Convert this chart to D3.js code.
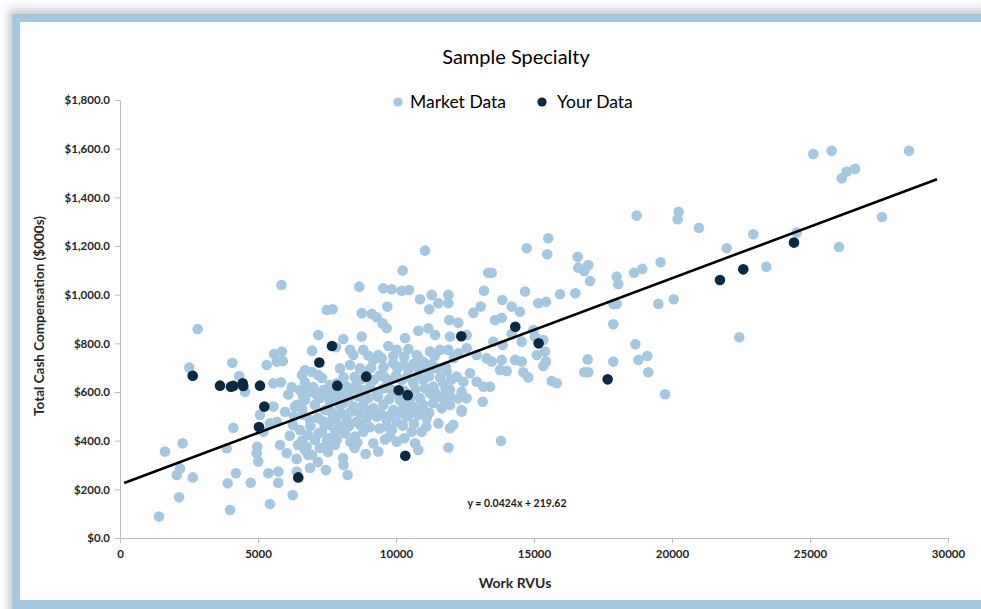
<!DOCTYPE html>
<html>
<head>
<meta charset="utf-8">
<script src="https://cdn.jsdelivr.net/npm/d3@7"></script>
<style>
  body { margin: 0; background: #fff; }
  svg { display: block; font-family: Lato, "Open Sans", sans-serif; }
</style>
</head>
<body>
<svg width="981" height="609"></svg>
<script>
// Work RVUs vs total cash compensation ($000s)
const marketData = [
    [5850,1040],[2815,859],[2510,700],[4070,720],[4320,666],[4530,601],[5580,756],[5860,766],[5680,725],[5900,727],
    [5315,711],[5555,636],[5830,640],[6220,620],[6700,690],[6960,770],[7185,834],[7490,937],[7185,670],[6640,581],
    [6860,615],[7130,588],[7370,608],[5555,540],[5070,506],[5980,519],[6340,540],[5680,478],[4105,453],[3866,369],
    [2270,389],[1630,355],[2175,286],[2055,259],[2635,249],[2140,167],[1413,88],[4200,266],[3900,225],[3985,115],
    [4735,227],[4975,375],[4950,348],[5010,314],[5375,266],[5735,273],[5735,227],[5435,140],[6257,177],[6400,325],
    [6400,273],[5190,437],[5435,471],[5800,382],[6040,348],[6820,341],[6760,375],
    [11050,1181],[10243,1099],[8670,1033],[9540,1026],[9843,1022],[10206,1016],[10471,1019],[10870,981],[11293,999],[11535,965],
    [11897,999],[11897,965],[11208,940],[7706,940],[9685,951],[8757,924],[9120,921],[9301,907],[9518,882],[9663,862],
    [11930,896],[12257,885],[12801,926],[13068,951],[13188,1016],[13344,1090],[8090,818],[8757,828],[10326,822],[10808,852],
    [11170,862],[11413,834],[11956,828],[12561,834],[7826,784],[8333,773],[8453,752],[8815,773],
    [9721,789],[10025,773],[10446,776],[10750,752],[11232,766],[11594,773],[11897,773],[12257,759],[12561,780],[12923,752],[13285,738],
    [9178,732],[9481,738],[9902,718],[10264,711],[10627,715],[10989,724],[11292,715],[11474,697],[11836,684],[12199,663],
    [12440,642],[12681,677],[12923,642],[13164,622],
    [7971,697],[8333,711],[8696,697],[8938,684],[9420,669],[9721,649],[10206,649],[10627,636],[10989,649],[11351,622],
    [11714,636],[11956,608],[12380,601],[12561,574],[13141,560],
    [7851,636],[8213,622],[8575,636],[9058,622],[9540,615],[10025,595],[10507,581],[10869,574],[11232,595],[11594,581],
    [11956,581],[12257,574],
    [7730,567],[8090,554],[8453,540],[8815,547],[9178,533],[9540,547],[9902,526],[10264,533],[10627,540],[10989,547],
    [11351,554],[11655,533],[11956,547],[12380,526],
    [7851,499],[8213,485],[8575,478],[8938,492],[9301,499],[9663,485],[10025,478],[10387,499],[10808,506],[11110,492],
    [11533,471],[12076,465],[12380,519],
    [7790,444],[8152,430],[8514,417],[8815,437],[9178,389],[9360,355],[9663,458],[9782,417],[10025,396],[10567,437],
    [10929,437],[10688,389],[10808,362],[11897,372],[11956,451],[8248,259],
    // filling the dense middle band
    [9000,750],[9360,752],[9900,748],[10300,745],[10800,742],[11400,748],[12100,740],
    [9100,700],[9550,702],[10050,698],[10450,690],[10800,700],[11150,688],[11800,705],
    [8100,660],[8500,662],[8800,655],[9200,650],[9600,660],[10000,668],[10400,662],[10800,668],[11200,665],[11600,660],[12000,650],
    [7700,610],[8050,605],[8400,612],[8750,608],[9300,598],[9800,612],[10300,605],[10700,610],[11050,615],[11400,600],[11800,612],
    [7600,580],[7950,585],[8300,578],[8650,582],[9000,575],[9350,580],[9750,570],[10150,565],[10500,560],[11400,575],[11750,568],
    [7650,520],[8000,515],[8350,518],[8700,512],[9050,520],[9450,510],[9800,505],[10150,515],[10500,512],[10850,522],[11200,515],
    [7600,465],[7950,462],[8300,460],[8700,465],[9050,455],[9400,450],[9850,445],[10250,462],[10650,470],[11100,458],
    [7500,400],[7850,405],[8350,395],[8600,392],[9600,405],[10300,410],[8500,370],[8900,345],[8100,300],
    [6100,590],[6300,500],[6600,530],[6900,460],[7200,430],[6700,640],[7000,620],[7350,480],[7500,390],[6150,420],[6600,400],
    [18720,1325],[20242,1341],[20206,1310],[20977,1275],[15517,1232],[15481,1166],[14734,1191],[16583,1156],[16606,1111],[16823,1097],
    [16968,1122],[17029,1056],[17995,1074],[18054,1043],[18623,1090],[18924,1106],[19589,1133],[13467,1090],[14674,1013],[13851,978],
    [14191,951],[14493,930],[15155,965],[15435,971],[15942,1002],[16496,1006],[17873,962],[17995,962],[19504,962],[20061,981],
    [13587,896],[13829,905],[17873,878],[14191,838],[14553,807],[14976,855],[15036,828],[15337,814],[13525,807],[13865,793],
    [15398,766],[15098,752],[15435,725],[15337,707],[14312,732],[14553,725],[13829,732],[13467,725],[13768,690],[14010,686],
    [14613,681],[14794,660],[15640,645],[15822,636],[16944,734],[16823,681],[16968,681],[17873,725],[18671,796],[18780,732],
    [19105,748],[19141,681],[19746,591],[13406,622],[13804,399],
    [25120,1578],[25785,1591],[28587,1591],[26329,1506],[26148,1478],[26631,1517],[27608,1319],[22946,1248],[21981,1191],[24517,1255],
    [26050,1196],[23416,1115],[22438,825],
    [6521,608],[6703,567],[6884,600],[7065,547],[7246,575],[7427,526],[7608,559],[6630,506],[6884,485],[7174,493],
    [7427,464],[7681,485],[6521,444],[6811,423],[7065,403],[7318,436],[7608,411],[6703,362],[6956,341],[7246,370],
    [7536,353],[7790,382],[6884,288],[7463,279],[7174,312],[6449,382],[6268,464],[6413,547],[6594,670],[6956,682],
    [7318,658],[7608,629],[7826,600],[7971,547],[7898,444],[8079,329]
];

const yourData = [
    [2634,667],[3623,626],[4021,622],[4105,625],[4445,636],[4467,625],[5072,626],[5229,540],[5036,456],[6460,249],
    [7222,721],[7681,789],[7873,626],[8923,663],[10097,607],[10423,587],[10337,338],[12366,829],[14322,868],[15169,800],
    [17669,652],[21738,1060],[22583,1104],[24419,1214]
];

const xTicks = [0, 5000, 10000, 15000, 20000, 25000, 30000];
const yTicks = [0, 200, 400, 600, 800, 1000, 1200, 1400, 1600, 1800];
const trendSlope = 0.0424, trendIntercept = 219.62;
const trendRange = [150, 29600];

const marketColor = "#a5c7e0";
const yourColor = "#0b2a41";

const svg = d3.select("svg");

// frame: soft shadow, blue border, white panel
const defs = svg.append("defs");
defs.append("filter").attr("id", "blur")
    .attr("x", "-5%").attr("y", "-5%").attr("width", "110%").attr("height", "110%")
    .append("feGaussianBlur").attr("stdDeviation", 4);
svg.append("rect").attr("x", 8).attr("y", 9).attr("width", 1000).attr("height", 620)
    .attr("fill", "#c9cdd2").attr("filter", "url(#blur)");
svg.append("rect").attr("x", 12).attr("y", 14).attr("width", 990).attr("height", 620)
    .attr("fill", "#a6c7e0");
svg.append("rect").attr("x", 20).attr("y", 22).attr("width", 980).attr("height", 578)
    .attr("fill", "#fff");

const x = d3.scaleLinear().domain([0, 30000]).range([120, 948]);
const y = d3.scaleLinear().domain([0, 1800]).range([538, 100]);

// Y-axis
const yAxis = svg.append("g")
    .attr("transform", "translate(120,0)")
    .call(d3.axisLeft(y).tickValues(yTicks).tickFormat(d3.format("$,.1f"))
        .tickSize(5).tickSizeOuter(0).tickPadding(5));

// X-axis
const xAxis = svg.append("g")
    .attr("transform", "translate(0,538)")
    .call(d3.axisBottom(x).tickValues(xTicks).tickFormat(d3.format("d"))
        .tickSize(5).tickSizeOuter(0).tickPadding(7));

[xAxis, yAxis].forEach(g => {
    g.select(".domain").attr("stroke", "#bcbcbc");
    g.selectAll(".tick line").attr("stroke", "#bcbcbc");
    g.selectAll(".tick text")
        .attr("fill", "#262626")
        .style("font-family", "Lato, sans-serif")
        .style("font-size", "11.5px")
        .style("font-weight", "bold");
});

// points
svg.append("g").selectAll("circle")
    .data(marketData)
    .enter().append("circle")
    .attr("cx", d => x(d[0]))
    .attr("cy", d => y(d[1]))
    .attr("r", 5.3)
    .attr("fill", marketColor);

// trend line
svg.append("path")
    .datum(trendRange.map(v => [v, trendSlope * v + trendIntercept]))
    .attr("d", d3.line().x(d => x(d[0])).y(d => y(d[1])))
    .attr("fill", "none")
    .attr("stroke", "#000")
    .attr("stroke-width", 2.6);

svg.append("g").selectAll("circle")
    .data(yourData)
    .enter().append("circle")
    .attr("cx", d => x(d[0]))
    .attr("cy", d => y(d[1]))
    .attr("r", 5.3)
    .attr("fill", yourColor);

// titles
svg.append("text")
    .attr("x", 516).attr("y", 64)
    .attr("text-anchor", "middle")
    .attr("fill", "#000")
    .style("font-size", "20px")
    .text("Sample Specialty");

svg.append("text")
    .attr("x", 515).attr("y", 588)
    .attr("text-anchor", "middle")
    .attr("fill", "#262626")
    .style("font-size", "14px").style("font-weight", "bold")
    .text("Work RVUs");

svg.append("text")
    .attr("transform", "translate(44,316) rotate(-90)")
    .attr("text-anchor", "middle")
    .attr("fill", "#262626")
    .style("font-size", "13.5px").style("font-weight", "bold")
    .text("Total Cash Compensation ($000s)");

svg.append("text")
    .attr("x", 517).attr("y", 507)
    .attr("text-anchor", "middle")
    .attr("fill", "#1a1a1a")
    .style("font-size", "10.5px").style("font-weight", "bold")
    .text(`y = ${trendSlope}x + ${trendIntercept}`);

// legend
const legendItems = [
    { label: "Market Data", color: marketColor, cx: 398, tx: 410 },
    { label: "Your Data", color: yourColor, cx: 542, tx: 557 }
];
const legend = svg.append("g");
legend.selectAll("circle")
    .data(legendItems)
    .enter().append("circle")
    .attr("cx", d => d.cx).attr("cy", 102).attr("r", 4.6)
    .attr("fill", d => d.color);
legend.selectAll("text")
    .data(legendItems)
    .enter().append("text")
    .attr("x", d => d.tx).attr("y", 108)
    .attr("fill", "#000")
    .style("font-size", "17.5px")
    .text(d => d.label);
</script>
</body>
</html>
